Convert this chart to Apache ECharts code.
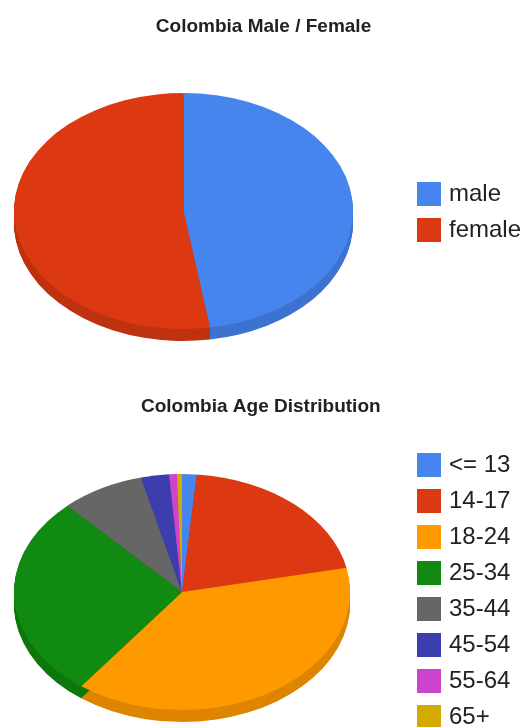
<!DOCTYPE html>
<html>
<head>
<meta charset="utf-8">
<script src="https://cdn.jsdelivr.net/npm/echarts@6/dist/echarts.min.js"></script>
<style>
  html, body { margin: 0; padding: 0; background: #fff; }
  #chart { width: 527px; height: 727px; }
</style>
</head>
<body>
<div id="chart"></div>
<script>
const sexTitle = 'Colombia Male / Female';
const sexCategories = ['male', 'female'];
const sexValues = [47.5, 52.5];
const sexColors = ['#4684ee', '#dc3912'];

const ageTitle = 'Colombia Age Distribution';
const ageCategories = ['<= 13', '14-17', '18-24', '25-34', '35-44', '45-54', '55-64', '65+'];
const ageValues = [1.4, 20.3, 38.5, 27.8, 8.0, 2.7, 0.75, 0.47];
const ageColors = ['#4684ee', '#dc3912', '#ff9900', '#108a10', '#666666', '#3b3eac', '#cc44cc', '#d4aa00'];

function darken(hex, k) {
  const n = parseInt(hex.slice(1), 16);
  const r = Math.round(((n >> 16) & 255) * k);
  const g = Math.round(((n >> 8) & 255) * k);
  const b = Math.round((n & 255) * k);
  return 'rgb(' + r + ',' + g + ',' + b + ')';
}

function sliceData(names, values, colors) {
  const total = values.reduce((a, b) => a + b, 0);
  let acc = 0;
  return values.map((v, i) => {
    const s = acc / total;
    acc += v;
    return { name: names[i], value: [s, acc / total], itemStyle: { color: colors[i] } };
  });
}

function legendData(names, values, colors) {
  return values.map((v, i) => ({ name: names[i], value: v, itemStyle: { color: colors[i] } }));
}

function pie3d(cx, cy, rx, ry, depth) {
  return function (params, api) {
    const a0 = -Math.PI / 2 + api.value(0) * 2 * Math.PI;
    const a1 = -Math.PI / 2 + api.value(1) * 2 * Math.PI;
    const color = api.visual('color');
    const sideColor = darken(color, 0.87);
    const shape = { cx: 0, cy: 0, r: rx, r0: 0, startAngle: a0, endAngle: a1, clockwise: true };
    const children = [];
    for (let d = depth; d >= 1; d--) {
      children.push({
        type: 'sector', x: cx, y: cy + d, scaleY: ry / rx,
        shape: shape, style: { fill: sideColor }, z2: 0
      });
    }
    children.push({
      type: 'sector', x: cx, y: cy, scaleY: ry / rx,
      shape: shape, style: { fill: color }, z2: 10
    });
    return { type: 'group', children: children };
  };
}

const chart = echarts.init(document.getElementById('chart'), null, { renderer: 'canvas' });

const titleStyle = { fontFamily: 'Liberation Sans, Arial, sans-serif', fontSize: 19, fontWeight: 'bold', color: '#222' };
const legendText = { fontFamily: 'Liberation Sans, Arial, sans-serif', fontSize: 24, color: '#222', padding: [0, 0, 0, 3] };

chart.setOption({
  animation: false,
  backgroundColor: '#fff',
  title: [
    { text: sexTitle, left: 'center', top: 17, padding: 0, textStyle: titleStyle },
    { text: ageTitle, left: 141, top: 397, padding: 0, textStyle: titleStyle }
  ],
  legend: [
    {
      data: sexCategories, orient: 'vertical', left: 417, top: 182, padding: 0,
      width: 110, height: 100,
      itemWidth: 24, itemHeight: 24, itemGap: 12, icon: 'rect',
      selectedMode: false, textStyle: legendText
    },
    {
      data: ageCategories, orient: 'vertical', left: 417, top: 453, padding: 0,
      width: 110, height: 320,
      itemWidth: 24, itemHeight: 24, itemGap: 12, icon: 'rect',
      selectedMode: false, textStyle: legendText
    }
  ],
  series: [
    {
      type: 'custom', name: 'sex', coordinateSystem: 'none', silent: true,
      renderItem: pie3d(183.5, 211, 169.5, 118, 12),
      data: sliceData(sexCategories, sexValues, sexColors)
    },
    {
      type: 'custom', name: 'age', coordinateSystem: 'none', silent: true,
      renderItem: pie3d(182, 592, 168, 118, 12),
      data: sliceData(ageCategories, ageValues, ageColors)
    },
    {
      type: 'pie', name: 'sexLegend', radius: [0, 0], center: [-100, -100], silent: true,
      label: { show: false }, labelLine: { show: false },
      data: legendData(sexCategories, sexValues, sexColors)
    },
    {
      type: 'pie', name: 'ageLegend', radius: [0, 0], center: [-100, -100], silent: true,
      label: { show: false }, labelLine: { show: false },
      data: legendData(ageCategories, ageValues, ageColors)
    }
  ]
});
</script>
</body>
</html>
